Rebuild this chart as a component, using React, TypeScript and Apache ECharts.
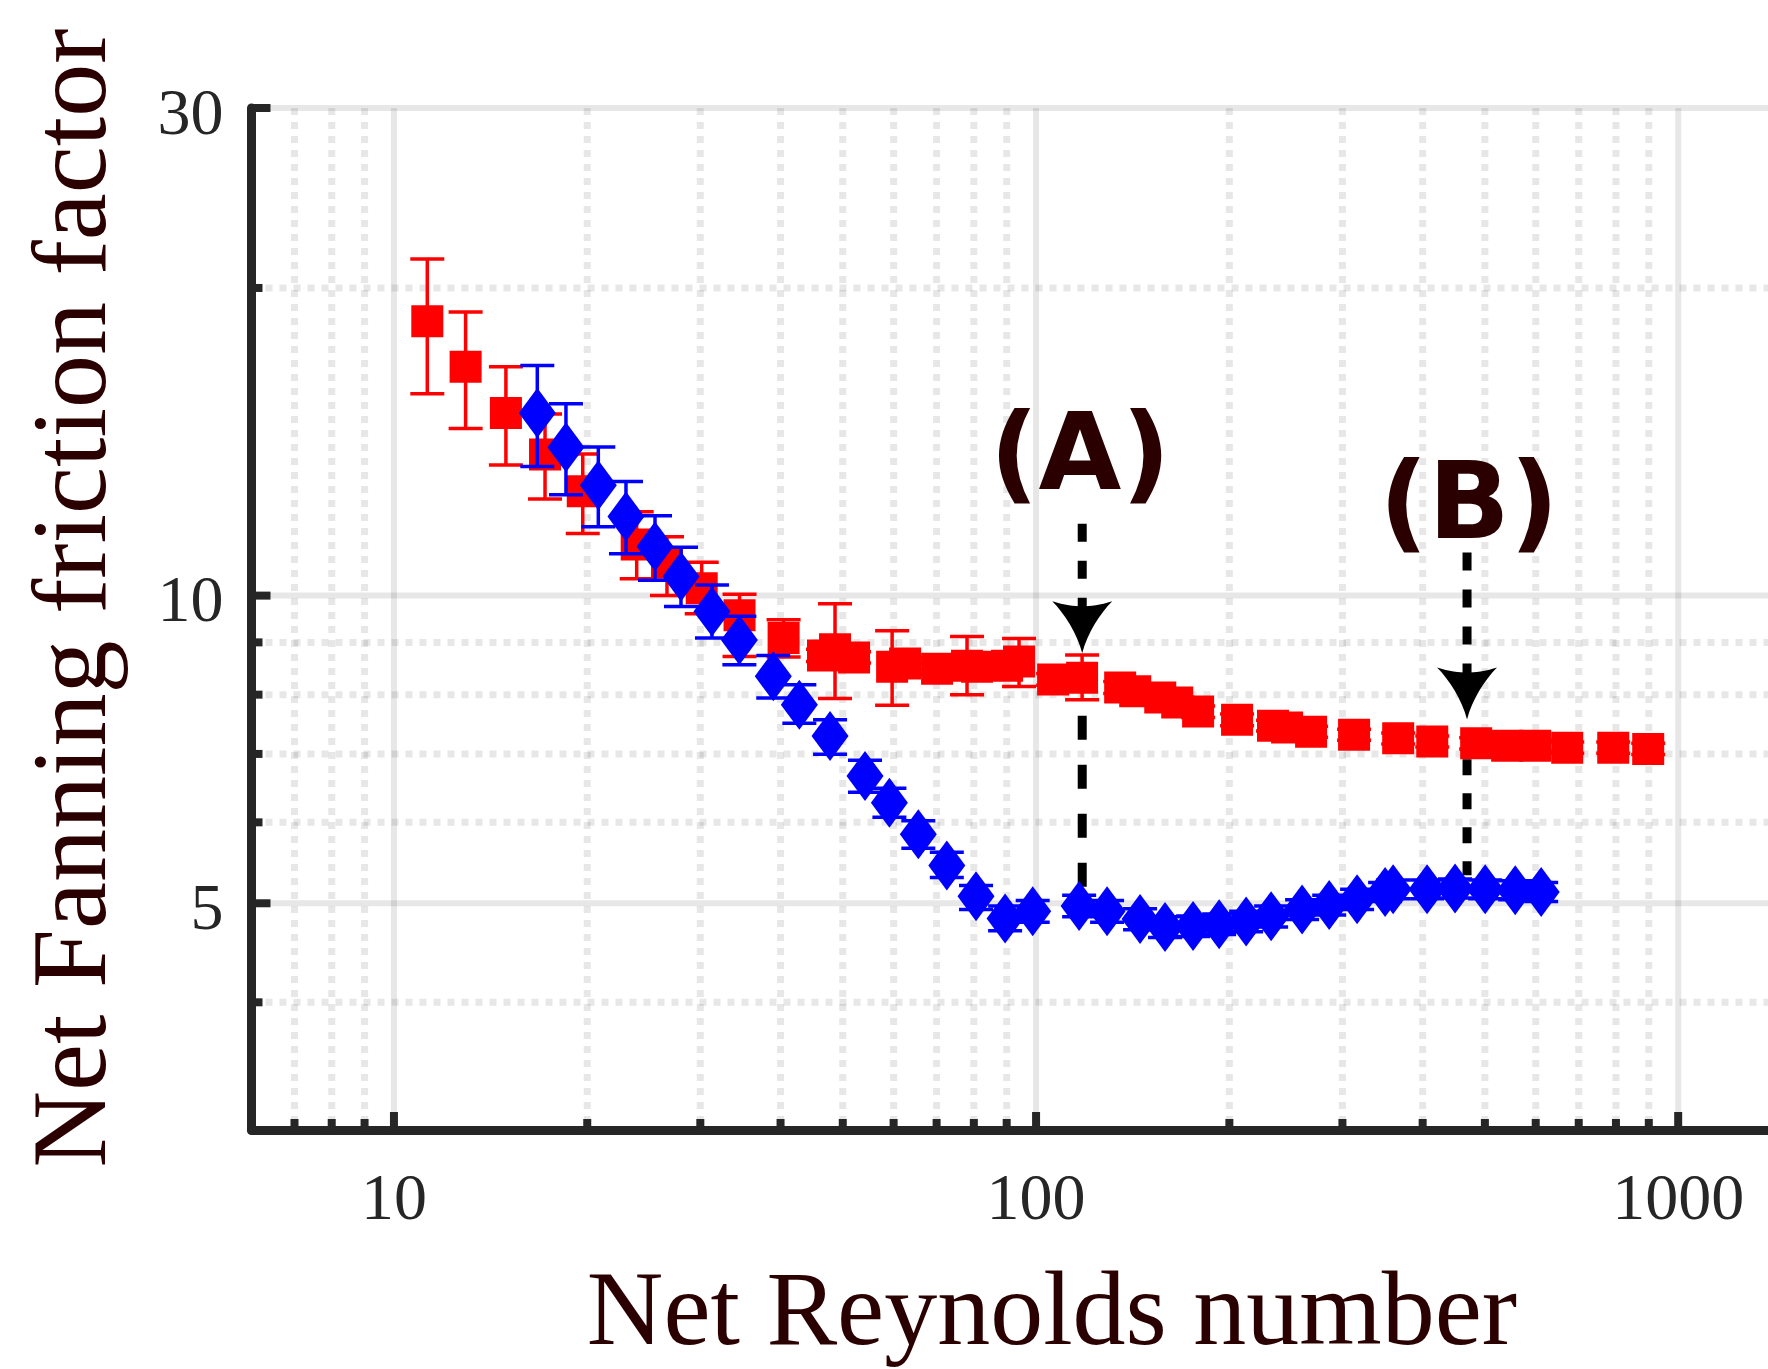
import React, { useEffect, useRef } from 'react';
import * as echarts from 'echarts';

// ---- data ----
const redX = [11.27, 12.93, 14.94, 17.19, 19.68, 23.88, 26.62, 30.15, 34.53, 40.44,
  46.58, 48.63, 52.07, 59.68, 62.52, 70.12, 78.07, 80.92, 90.12, 94.08,
  106.3, 117.95, 135.2, 142.7, 156.1, 165.9, 178.8, 205.6, 233.9, 246.0,
  268.1, 312.8, 366.4, 414.0, 484.6, 541.5, 598.8, 671.7, 792.2, 898.1];
const redY = [18.56, 16.75, 15.09, 13.74, 12.65, 11.22, 10.77, 10.17, 9.57, 9.09,
  8.74, 8.86, 8.70, 8.52, 8.58, 8.48, 8.54, 8.52, 8.54, 8.62,
  8.28, 8.31, 8.13, 8.06, 7.95, 7.86, 7.70, 7.56, 7.46, 7.43,
  7.36, 7.31, 7.25, 7.20, 7.17, 7.13, 7.13, 7.10, 7.10, 7.08];
const redLow = [15.76, 14.57, 13.42, 12.43, 11.50, 10.39, 10.00, 9.60, 8.72, 8.71,
  8.62, 7.93, 8.59, 7.81, 8.47, 8.37, 8.00, 8.41, 8.43, 8.15,
  8.17, 7.91, 8.02, 7.95, 7.85, 7.76, 7.60, 7.46, 7.37, 7.34,
  7.27, 7.22, 7.16, 7.11, 7.08, 7.04, 7.04, 7.01, 7.01, 6.99];
const redHigh = [21.35, 18.95, 16.75, 15.06, 13.76, 12.08, 11.42, 10.78, 10.03, 9.47,
  8.86, 9.82, 8.81, 9.24, 8.69, 8.59, 9.12, 8.63, 8.65, 9.08,
  8.39, 8.75, 8.24, 8.17, 8.05, 7.96, 7.80, 7.66, 7.55, 7.52,
  7.45, 7.40, 7.34, 7.29, 7.26, 7.22, 7.22, 7.19, 7.19, 7.17];

const blueX = [16.72, 18.53, 20.81, 22.98, 25.50, 27.99, 31.28, 34.51, 38.97, 42.79,
  47.77, 54.15, 59.10, 65.56, 72.61, 80.63, 89.49, 98.8, 116.7, 129.0,
  145.2, 158.8, 175.6, 192.8, 212.4, 232.3, 259.6, 286.1, 316.2, 349.6,
  359.8, 406.4, 449.3, 500.5, 557.5, 611.8];
const blueY = [15.09, 13.97, 12.82, 11.95, 11.17, 10.44, 9.65, 9.05, 8.34, 7.82,
  7.29, 6.66, 6.27, 5.84, 5.445, 5.08, 4.83, 4.91, 4.97, 4.91,
  4.825, 4.74, 4.75, 4.77, 4.80, 4.855, 4.93, 4.98, 5.045, 5.13,
  5.16, 5.16, 5.17, 5.16, 5.15, 5.13];
const blueLow = [13.38, 12.55, 11.68, 10.99, 10.35, 9.76, 9.09, 8.56, 7.94, 7.50,
  6.995, 6.42, 6.07, 5.66, 5.30, 4.93, 4.70, 4.79, 4.85, 4.79,
  4.71, 4.63, 4.64, 4.66, 4.69, 4.74, 4.82, 4.87, 4.93, 5.02,
  5.05, 5.05, 5.06, 5.05, 5.04, 5.02];
const blueHigh = [16.79, 15.41, 13.98, 12.93, 11.97, 11.15, 10.24, 9.545, 8.74, 8.18,
  7.56, 6.90, 6.48, 6.02, 5.61, 5.205, 4.97, 5.03, 5.09, 5.03,
  4.94, 4.85, 4.86, 4.88, 4.91, 4.97, 5.04, 5.09, 5.16, 5.24,
  5.27, 5.27, 5.28, 5.27, 5.26, 5.24];

// axes
const xAxisMin = 6;
const xAxisMax = 1380;
const yAxisMin = 3;
const yAxisMax = 30;
const xMajorTicks = [10, 100, 1000];
const xMinorTicks = [7, 8, 9, 20, 30, 40, 50, 60, 70, 80, 90, 200, 300, 400, 500, 600, 700, 800, 900];
const yMajorTicks = [5, 10, 30];
const yMinorTicks = [4, 6, 7, 8, 9, 20];
const yTickLabels = ['5', '10', '30'];

// annotations (data coordinates)
const annotLabels = ['(A)', '(B)'];
const annotX = [118, 469];
const annotTop = [11.76, 11.02];
const annotTip = [8.78, 7.565];
const annotLowStart = [8.52, 6.915];
const annotLowEnd = [5.18, 5.325];

const xTitle = 'Net Reynolds number';
const yTitle = 'Net Fanning friction factor';

// ---- styles ----
const AXIS_COLOR = '#262626';
const TITLE_COLOR = '#2b0000';
const GRID_COLOR = 'rgba(38,38,38,0.11)';
const SERIF = '"Liberation Serif", "Times New Roman", serif';
const lowerDash = [[24, 25], [16, 18]];
const ARROW_PATH = 'M0 0 C-5 -20 -18 -40 -30 -52 C-18 -48 -8 -47 0 -47 C8 -47 18 -48 30 -52 C18 -40 5 -20 0 0 Z';

export default function App() {
  const ref = useRef<HTMLDivElement>(null);

  useEffect(() => {
    if (!ref.current) return;
    const chart = echarts.init(ref.current, undefined, { renderer: 'svg' });

    const errRender = (color: string) => (params: any, api: any) => {
      const x = api.value(0);
      const lo = api.coord([x, api.value(1)]);
      const hi = api.coord([x, api.value(2)]);
      const hw = 17;
      const style = { stroke: color, lineWidth: 3.5 };
      return {
        type: 'group',
        children: [
          { type: 'line', shape: { x1: lo[0], y1: lo[1], x2: hi[0], y2: hi[1] }, style },
          { type: 'line', shape: { x1: lo[0] - hw, y1: lo[1], x2: lo[0] + hw, y2: lo[1] }, style },
          { type: 'line', shape: { x1: hi[0] - hw, y1: hi[1], x2: hi[0] + hw, y2: hi[1] }, style },
        ],
      };
    };

    const vGridData = [
      ...xMinorTicks.map((v) => [v, 10, 0]),
      ...xMajorTicks.map((v) => [v, 10, 1]),
    ];
    const hGridData = [
      ...yMinorTicks.map((v) => [100, v, 0]),
      ...yMajorTicks.map((v) => [100, v, 1]),
    ];

    const option: any = {
      animation: false,
      backgroundColor: '#ffffff',
      grid: {
        left: 251.5,
        top: 108,
        right: 0,
        bottom: 239,
        containLabel: false,
        outerBoundsMode: 'none',
      },
      xAxis: {
        type: 'log',
        logBase: 10,
        min: xAxisMin,
        max: xAxisMax,
        axisLine: { show: true, onZero: false, lineStyle: { color: AXIS_COLOR, width: 9 } },
        axisTick: { show: false },
        splitLine: { show: false },
        minorTick: { show: false },
        minorSplitLine: { show: false },
        axisLabel: {
          show: true,
          margin: 33,
          fontFamily: SERIF,
          fontSize: 66,
          color: AXIS_COLOR,
          formatter: (v: number) => {
            const l = Math.log10(v);
            return Math.abs(l - Math.round(l)) < 1e-6 ? String(Math.round(v)) : '';
          },
        },
      },
      yAxis: {
        type: 'log',
        logBase: 10,
        min: yAxisMin,
        max: yAxisMax,
        axisLine: { show: true, onZero: false, lineStyle: { color: AXIS_COLOR, width: 9 } },
        axisTick: { show: false },
        splitLine: { show: false },
        minorTick: { show: false },
        minorSplitLine: { show: false },
        axisLabel: { show: false },
      },
      series: [
        // vertical grid lines
        {
          type: 'custom',
          z: 1,
          silent: true,
          data: vGridData,
          encode: { x: 0, y: 1 },
          renderItem: (params: any, api: any) => {
            const cs = params.coordSys;
            const c = api.coord([api.value(0), 10]);
            const major = api.value(2) === 1;
            return {
              type: 'line',
              shape: { x1: c[0], y1: cs.y, x2: c[0], y2: cs.y + cs.height },
              style: major
                ? { stroke: GRID_COLOR, lineWidth: 6 }
                : { stroke: GRID_COLOR, lineWidth: 7, lineDash: [7, 7] },
            };
          },
        },
        // horizontal grid lines
        {
          type: 'custom',
          z: 1,
          silent: true,
          data: hGridData,
          encode: { x: 0, y: 1 },
          renderItem: (params: any, api: any) => {
            const cs = params.coordSys;
            const c = api.coord([100, api.value(1)]);
            const major = api.value(2) === 1;
            return {
              type: 'line',
              shape: { x1: cs.x, y1: c[1], x2: cs.x + cs.width, y2: c[1] },
              style: major
                ? { stroke: GRID_COLOR, lineWidth: 6 }
                : { stroke: GRID_COLOR, lineWidth: 7, lineDash: [7, 7] },
            };
          },
        },
        // annotation arrows
        {
          type: 'custom',
          z: 1.5,
          silent: true,
          data: annotX.map((x, i) => [x, annotTop[i], annotTip[i], annotLowStart[i], annotLowEnd[i]]),
          encode: { x: 0, y: [1, 2, 3, 4] },
          renderItem: (params: any, api: any) => {
            const x = api.value(0);
            const p1 = api.coord([x, api.value(1)]);
            const p2 = api.coord([x, api.value(2)]);
            const p3 = api.coord([x, api.value(3)]);
            const p4 = api.coord([x, api.value(4)]);
            return {
              type: 'group',
              children: [
                {
                  type: 'line',
                  shape: { x1: p1[0], y1: p1[1], x2: p2[0], y2: p2[1] - 20 },
                  style: { stroke: '#000000', lineWidth: 9, lineDash: [18, 19] },
                },
                {
                  type: 'line',
                  shape: { x1: p3[0], y1: p3[1], x2: p4[0], y2: p4[1] },
                  style: { stroke: '#000000', lineWidth: 9, lineDash: lowerDash[params.dataIndex] },
                },
                {
                  type: 'path',
                  x: p2[0],
                  y: p2[1],
                  shape: { pathData: ARROW_PATH },
                  style: { fill: '#000000' },
                },
              ],
            };
          },
        },
        // red error bars
        {
          type: 'custom',
          z: 2,
          silent: true,
          data: redX.map((x, i) => [x, redLow[i], redHigh[i]]),
          encode: { x: 0, y: [1, 2] },
          renderItem: errRender('#ff0000'),
        },
        {
          type: 'scatter',
          z: 3,
          symbol: 'rect',
          symbolSize: 32,
          itemStyle: { color: '#ff0000', opacity: 1 },
          data: redX.map((x, i) => [x, redY[i]]),
        },
        // blue error bars
        {
          type: 'custom',
          z: 4,
          silent: true,
          data: blueX.map((x, i) => [x, blueLow[i], blueHigh[i]]),
          encode: { x: 0, y: [1, 2] },
          renderItem: errRender('#0000ff'),
        },
        {
          type: 'scatter',
          z: 5,
          symbol: 'diamond',
          symbolSize: [37, 50],
          itemStyle: { color: '#0000ff', opacity: 1 },
          data: blueX.map((x, i) => [x, blueY[i]]),
        },
        // x ticks (inward)
        {
          type: 'custom',
          z: 8,
          silent: true,
          data: vGridData,
          encode: { x: 0, y: 1 },
          renderItem: (params: any, api: any) => {
            const cs = params.coordSys;
            const c = api.coord([api.value(0), 10]);
            const len = api.value(2) === 1 ? 18 : 11;
            const yb = cs.y + cs.height;
            return {
              type: 'line',
              shape: { x1: c[0], y1: yb, x2: c[0], y2: yb - len },
              style: { stroke: AXIS_COLOR, lineWidth: 8 },
            };
          },
        },
        // y ticks (inward) + labels
        {
          type: 'custom',
          z: 8,
          silent: true,
          data: hGridData,
          encode: { x: 0, y: 1 },
          renderItem: (params: any, api: any) => {
            const cs = params.coordSys;
            const c = api.coord([100, api.value(1)]);
            const major = api.value(2) === 1;
            const len = major ? 19 : 11;
            const children: any[] = [
              {
                type: 'line',
                shape: { x1: cs.x, y1: c[1], x2: cs.x + len, y2: c[1] },
                style: { stroke: AXIS_COLOR, lineWidth: 8 },
              },
            ];
            if (major) {
              const idx = yMajorTicks.indexOf(api.value(1));
              children.push({
                type: 'text',
                x: cs.x - 28,
                y: c[1] + 3,
                style: {
                  text: yTickLabels[idx],
                  fill: AXIS_COLOR,
                  fontFamily: SERIF,
                  fontSize: 66,
                  align: 'right',
                  verticalAlign: 'middle',
                },
              });
            }
            return { type: 'group', children };
          },
        },
      ],
      graphic: [
        {
          type: 'text',
          x: 1052,
          y: 1308,
          silent: true,
          style: {
            text: xTitle,
            fill: TITLE_COLOR,
            fontFamily: SERIF,
            fontSize: 106,
            align: 'center',
            verticalAlign: 'middle',
          },
        },
        {
          type: 'text',
          x: 69,
          y: 598,
          rotation: Math.PI / 2,
          silent: true,
          style: {
            text: yTitle,
            fill: TITLE_COLOR,
            fontFamily: SERIF,
            fontSize: 106,
            align: 'center',
            verticalAlign: 'middle',
          },
        },
        {
          type: 'text',
          x: 1080,
          y: 452,
          silent: true,
          z: 10,
          style: {
            text: annotLabels[0],
            fill: TITLE_COLOR,
            fontFamily: '"DejaVu Sans", sans-serif',
            fontWeight: 'bold',
            fontSize: 107,
            align: 'center',
            verticalAlign: 'middle',
          },
        },
        {
          type: 'text',
          x: 1469,
          y: 501,
          silent: true,
          z: 10,
          style: {
            text: annotLabels[1],
            fill: TITLE_COLOR,
            fontFamily: '"DejaVu Sans", sans-serif',
            fontWeight: 'bold',
            fontSize: 107,
            align: 'center',
            verticalAlign: 'middle',
          },
        },
      ],
    };

    chart.setOption(option);
    return () => {
      chart.dispose();
    };
  }, []);

  return (
    <div
      ref={ref}
      style={{ position: 'absolute', left: 0, top: 0, width: 1768, height: 1369, background: '#fff' }}
    />
  );
}
